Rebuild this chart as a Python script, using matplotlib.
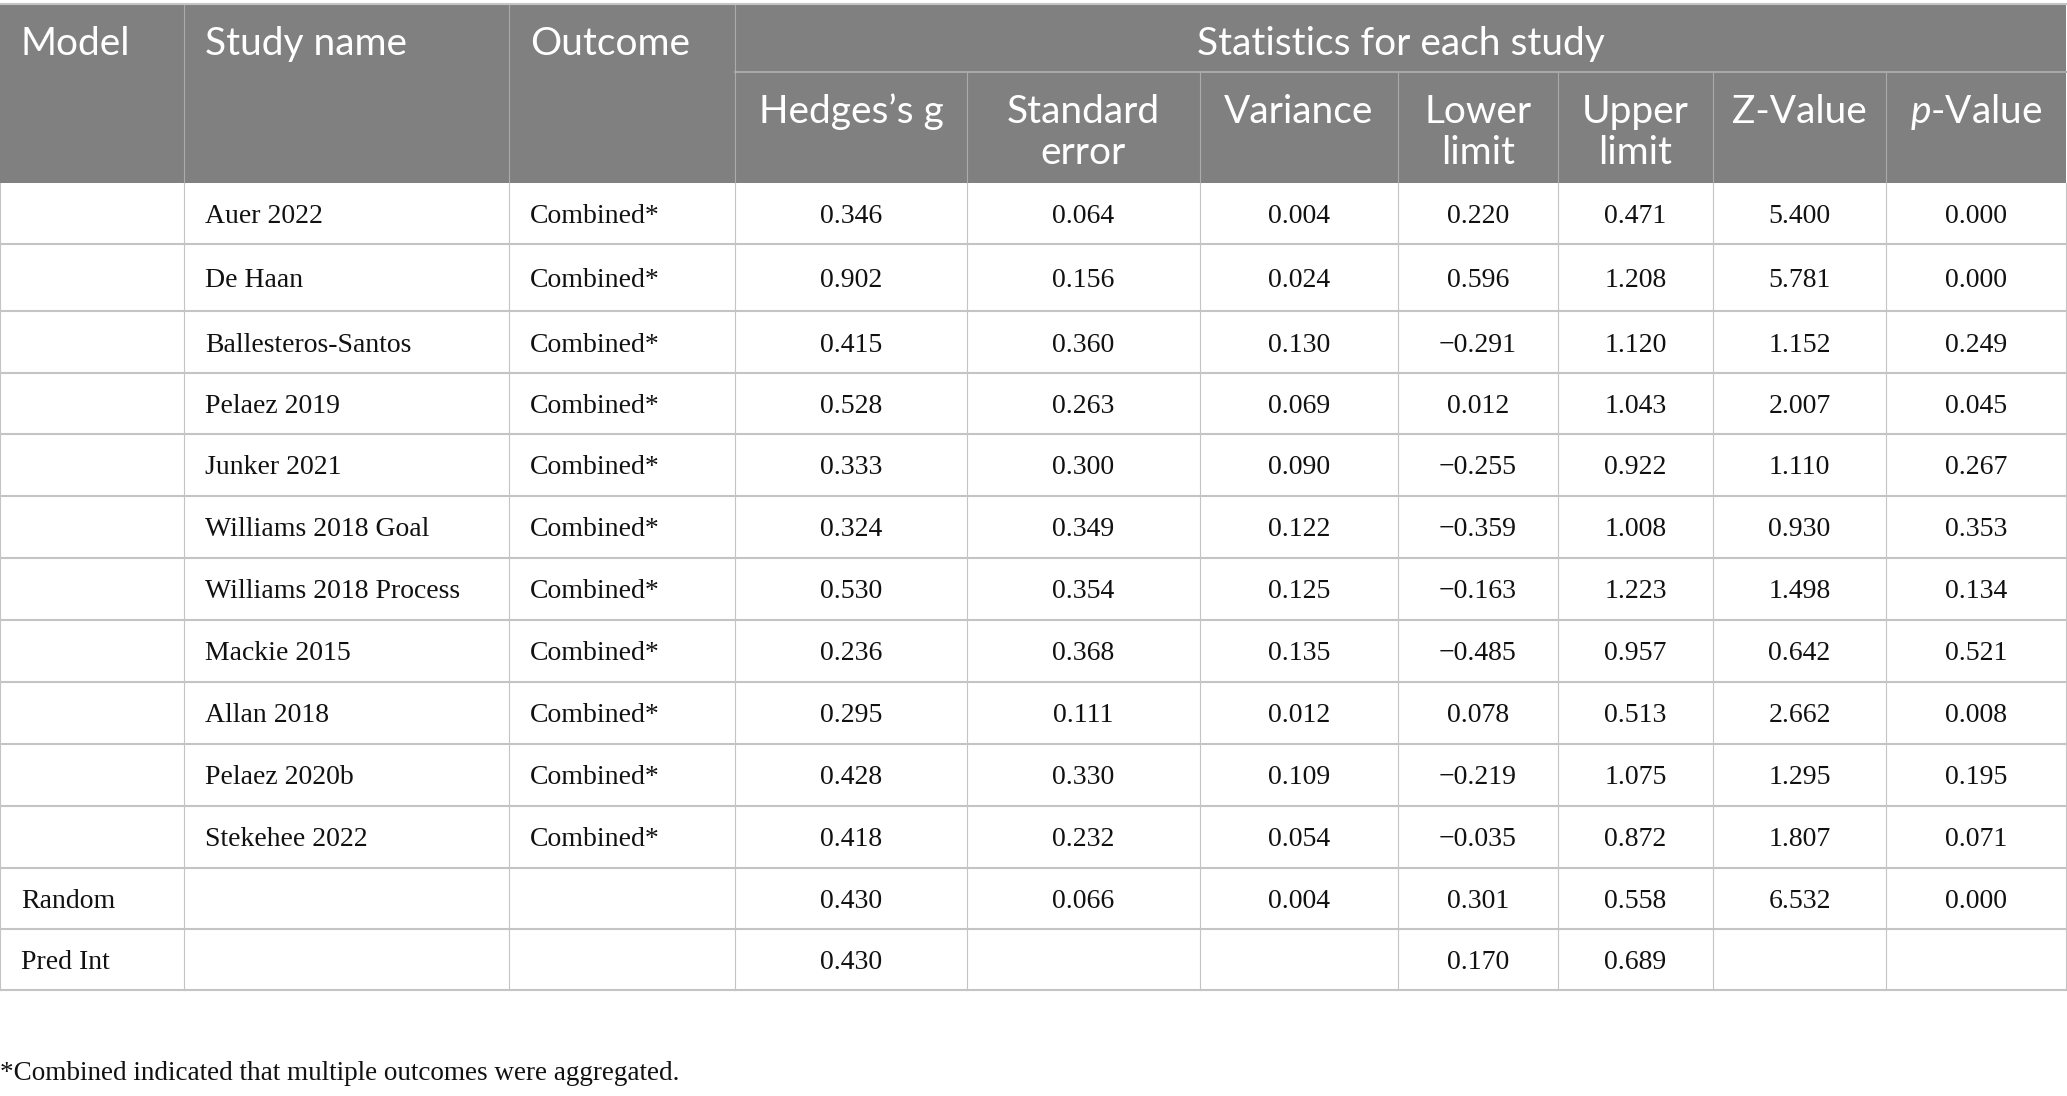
import matplotlib.pyplot as plt
from matplotlib.patches import Rectangle

plt.rcParams["mathtext.fontset"] = "custom"
plt.rcParams["mathtext.it"] = "Lato:italic"
plt.rcParams["mathtext.rm"] = "Lato"

# datos de la tabla
ESTUDIOS = [
    "Auer 2022", "De Haan", "Ballesteros-Santos", "Pelaez 2019", "Junker 2021",
    "Williams 2018 Goal", "Williams 2018 Process", "Mackie 2015", "Allan 2018",
    "Pelaez 2020b", "Stekehee 2022",
]
OUTCOME = "Combined*"
HEDGES = [0.346, 0.902, 0.415, 0.528, 0.333, 0.324, 0.530, 0.236, 0.295, 0.428, 0.418]
STD_ERR = [0.064, 0.156, 0.360, 0.263, 0.300, 0.349, 0.354, 0.368, 0.111, 0.330, 0.232]
VARIANZA = [0.004, 0.024, 0.130, 0.069, 0.090, 0.122, 0.125, 0.135, 0.012, 0.109, 0.054]
LOWER = [0.220, 0.596, -0.291, 0.012, -0.255, -0.359, -0.163, -0.485, 0.078, -0.219, -0.035]
UPPER = [0.471, 1.208, 1.120, 1.043, 0.922, 1.008, 1.223, 0.957, 0.513, 1.075, 0.872]
Z_VAL = [5.400, 5.781, 1.152, 2.007, 1.110, 0.930, 1.498, 0.642, 2.662, 1.295, 1.807]
P_VAL = [0.000, 0.000, 0.249, 0.045, 0.267, 0.353, 0.134, 0.521, 0.008, 0.195, 0.071]

RANDOM = [0.430, 0.066, 0.004, 0.301, 0.558, 6.532, 0.000]
PRED_INT = [0.430, None, None, 0.170, 0.689, None, None]

HEADER_TOP = ["Model", "Study name", "Outcome"]
HEADER_SUB = ["Hedges’s g", "Standard\nerror", "Variance", "Lower\nlimit",
              "Upper\nlimit", "Z-Value", r"$\mathit{p}$-Value"]
GRUPO = "Statistics for each study"
NOTA = "*Combined indicated that multiple outcomes were aggregated."

# layout en pixeles
W, H = 2067, 1096
COLS = [0, 184, 509, 735, 967, 1200, 1398, 1558, 1713, 1886, 2066]
Y_TOP, Y_MID, Y_HEAD = 4, 72, 183
ROW_H = [61, 67, 62, 61, 62, 62, 62, 62, 62, 62, 62, 61, 61]

GRIS = "#808080"
LINEA_HEAD = "#ababab"
LINEA = "#c4c4c4"
SANS = "Lato"
SERIF = "Liberation Serif"
TAM_HEAD = 28


def fmt(v):
    if v is None:
        return ""
    s = f"{abs(v):.3f}"
    return ("\u2212" + s) if v < 0 else s


fig = plt.figure(figsize=(W / 100, H / 100), dpi=100)
ax = fig.add_axes([0, 0, 1, 1])
ax.set_xlim(0, W)
ax.set_ylim(H, 0)
ax.axis("off")

# cabecera
ax.add_patch(Rectangle((0, Y_TOP), COLS[-1], Y_HEAD - Y_TOP, color=GRIS, lw=0))
ax.plot([COLS[3], COLS[-1]], [Y_MID, Y_MID], color=LINEA_HEAD, lw=1.4)
for x in COLS[1:4]:
    ax.plot([x, x], [Y_TOP, Y_HEAD], color=LINEA_HEAD, lw=0.8)
for x in COLS[4:-1]:
    ax.plot([x, x], [Y_MID, Y_HEAD], color=LINEA_HEAD, lw=0.8)

estilo_head = dict(color="white", fontsize=TAM_HEAD, family=SANS, va="baseline")
for i, t in enumerate(HEADER_TOP):
    ax.text(COLS[i] + 21, 55, t, ha="left", **estilo_head)
ax.text((COLS[3] + COLS[-1]) / 2, 55, GRUPO, ha="center", **estilo_head)
for j, t in enumerate(HEADER_SUB):
    xc = (COLS[3 + j] + COLS[4 + j]) / 2
    for k, linea in enumerate(t.split("\n")):
        ax.text(xc, 123 + 41 * k, linea, ha="center", **estilo_head)

# filas del cuerpo
filas = []
for i, est in enumerate(ESTUDIOS):
    vals = [HEDGES[i], STD_ERR[i], VARIANZA[i], LOWER[i], UPPER[i], Z_VAL[i], P_VAL[i]]
    filas.append(["", est, OUTCOME] + [fmt(v) for v in vals])
filas.append(["Random", "", ""] + [fmt(v) for v in RANDOM])
filas.append(["Pred Int", "", ""] + [fmt(v) for v in PRED_INT])

y = Y_HEAD
for fila, h in zip(filas, ROW_H):
    base = y + h / 2 + 9.5
    for c, t in enumerate(fila):
        if c < 3:
            ax.text(COLS[c] + 21, base, t, fontsize=20, family=SERIF,
                    color="#111111", ha="left", va="baseline")
        else:
            ax.text((COLS[c] + COLS[c + 1]) / 2, base, t, fontsize=20, family=SERIF,
                    color="#111111", ha="center", va="baseline")
    y += h
    ax.plot([0, COLS[-1]], [y, y], color=LINEA, lw=1.5)
y_fin = y

ax.plot([0, COLS[-1]], [Y_TOP, Y_TOP], color=LINEA, lw=1.5)
for x in COLS:
    ax.plot([x, x], [Y_HEAD, y_fin], color=LINEA, lw=0.8)

ax.text(0, 1080, NOTA, fontsize=19.5, family=SERIF, color="#111111",
        ha="left", va="baseline")

fig.savefig("out.png", dpi=100)
